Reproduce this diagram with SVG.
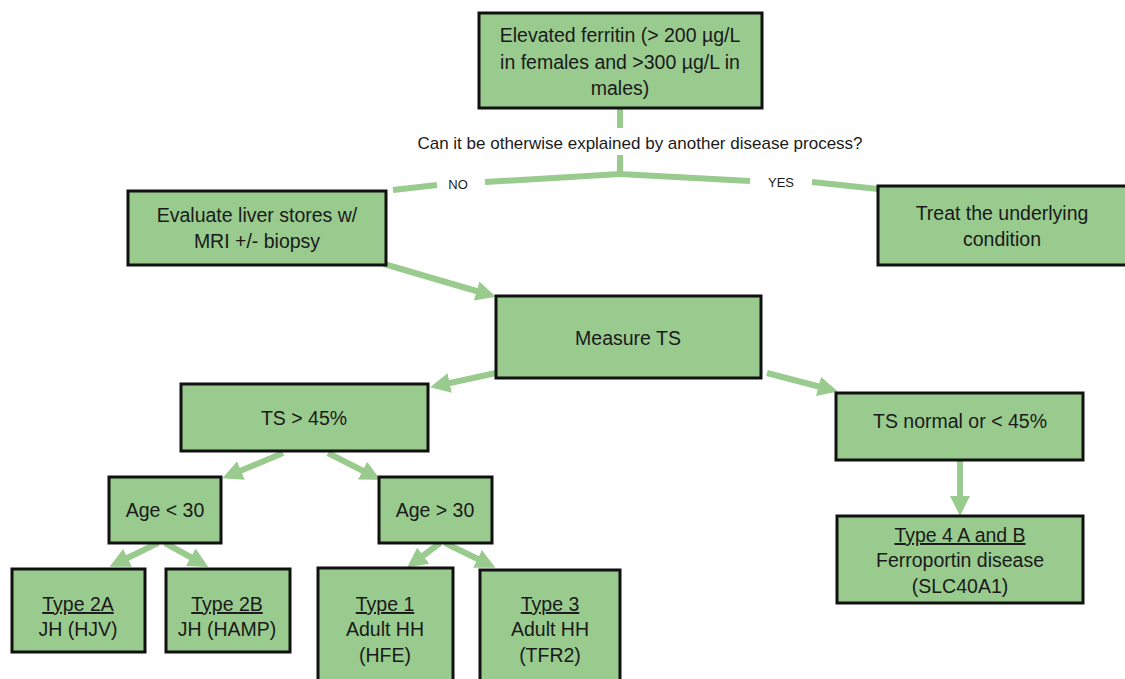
<svg xmlns="http://www.w3.org/2000/svg" width="1125" height="679" viewBox="0 0 1125 679">
<style>
.box{fill:#99CA8E;stroke:#111;stroke-width:3}
.t{font-family:"Liberation Sans",Arial,sans-serif;font-size:19.5px;fill:#1a1a1a;text-anchor:middle}
.u{text-decoration:underline}
.q{font-family:"Liberation Sans",Arial,sans-serif;font-size:17px;fill:#1a1a1a;text-anchor:middle}
.s{font-family:"Liberation Sans",Arial,sans-serif;font-size:13px;fill:#1a1a1a;text-anchor:middle}
.c{fill:none;stroke:#99CA8E;stroke-width:6;stroke-linecap:butt}
.a{fill:none;stroke:#99CA8E;stroke-width:6;marker-end:url(#ah)}
</style>
<defs>
<marker id="ah" markerUnits="userSpaceOnUse" markerWidth="20" markerHeight="20" refX="14" refY="10" orient="auto">
<path d="M0,0 L20,10 L0,20 z" fill="#99CA8E"/>
</marker>
</defs>
<rect width="1125" height="679" fill="#fff"/>
<g id="connectors">
<path class="c" d="M620,108 L620,128"/>
<path class="c" d="M620,155 L620,174"/>
<path class="c" d="M485,182 L620,174 L750,181"/>
<path class="c" d="M393,190 L437,185"/>
<path class="c" d="M812,182 L878,189"/>
<path class="a" d="M384,264 L490,295"/>
<path class="a" d="M496,373 L436,386"/>
<path class="a" d="M767,373 L832,390"/>
<path class="a" d="M960,460 L960,510"/>
<path class="a" d="M283,453 L228,476"/>
<path class="a" d="M328,453 L375,477"/>
<path class="a" d="M158,543 L115,564"/>
<path class="a" d="M165,543 L203,564"/>
<path class="a" d="M440,543 L412,564"/>
<path class="a" d="M445,543 L490,565"/>
<text class="q" x="640" y="149">Can it be otherwise explained by another disease process?</text>
<text class="s" x="458" y="189">NO</text>
<text class="s" x="781" y="187">YES</text>
</g>
<g id="n-ferritin">
<rect class="box" x="479" y="13" width="283" height="95"/>
<text class="t" x="620" y="42">Elevated ferritin (&gt; 200 µg/L</text>
<text class="t" x="620" y="69">in females and &gt;300 µg/L in</text>
<text class="t" x="620" y="95">males)</text>
</g>
<g id="n-evaluate">
<rect class="box" x="128" y="191" width="258" height="74"/>
<text class="t" x="257" y="222">Evaluate liver stores w/</text>
<text class="t" x="257" y="248">MRI +/- biopsy</text>
</g>
<g id="n-treat">
<rect class="box" x="878" y="186" width="260" height="79"/>
<text class="t" x="1002" y="220">Treat the underlying</text>
<text class="t" x="1002" y="246">condition</text>
</g>
<g id="n-measure">
<rect class="box" x="496" y="296" width="265" height="82"/>
<text class="t" x="628" y="345">Measure TS</text>
</g>
<g id="n-tshigh">
<rect class="box" x="181" y="384" width="247" height="67"/>
<text class="t" x="304" y="425">TS &gt; 45%</text>
</g>
<g id="n-tsnormal">
<rect class="box" x="836" y="393" width="247" height="67"/>
<text class="t" x="960" y="428">TS normal or &lt; 45%</text>
</g>
<g id="n-type4">
<rect class="box" x="837" y="516" width="246" height="87"/>
<text class="t u" x="960" y="542">Type 4 A and B</text>
<text class="t" x="960" y="567">Ferroportin disease</text>
<text class="t" x="960" y="593">(SLC40A1)</text>
</g>
<g id="n-agelow">
<rect class="box" x="109" y="477" width="112" height="66"/>
<text class="t" x="165" y="517">Age &lt; 30</text>
</g>
<g id="n-agehigh">
<rect class="box" x="379" y="477" width="113" height="66"/>
<text class="t" x="435" y="517">Age &gt; 30</text>
</g>
<g id="n-type2a">
<rect class="box" x="12" y="569" width="133" height="83"/>
<text class="t u" x="78" y="611">Type 2A</text>
<text class="t" x="78" y="636">JH (HJV)</text>
</g>
<g id="n-type2b">
<rect class="box" x="166" y="569" width="124" height="83"/>
<text class="t u" x="227" y="611">Type 2B</text>
<text class="t" x="227" y="636">JH (HAMP)</text>
</g>
<g id="n-type1">
<rect class="box" x="318" y="568" width="135" height="120"/>
<text class="t u" x="385" y="611">Type 1</text>
<text class="t" x="385" y="636">Adult HH</text>
<text class="t" x="385" y="662">(HFE)</text>
</g>
<g id="n-type3">
<rect class="box" x="480" y="570" width="140" height="120"/>
<text class="t u" x="550" y="611">Type 3</text>
<text class="t" x="550" y="636">Adult HH</text>
<text class="t" x="550" y="662">(TFR2)</text>
</g>
</svg>
